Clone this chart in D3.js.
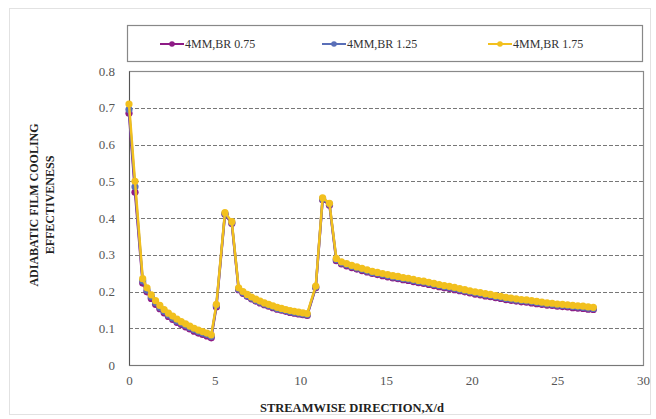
<!DOCTYPE html>
<html><head><meta charset="utf-8">
<script src="https://cdn.jsdelivr.net/npm/d3@7"></script>
<style>body{margin:0;background:#fff}svg{display:block}</style>
</head><body>
<svg id="chart" width="656" height="419"></svg>
<script>
const seriesNames = ["4MM,BR 0.75", "4MM,BR 1.25", "4MM,BR 1.75"];
const xPositions = [0,0.35,
  0.8,1.05,1.3,1.55,1.8,2.05,2.3,2.55,2.8,3.05,3.3,3.55,3.8,4.05,4.3,4.55,4.8,
  5.1,5.6,6.0,
  6.4,6.65,6.9,7.15,7.4,7.65,7.9,8.15,8.4,8.65,8.9,9.15,9.4,9.65,9.9,10.15,10.4,
  10.9,11.3,11.7,
  12.1,12.4,12.7,13.0,13.3,13.6,13.9,14.2,14.5,14.8,15.1,15.4,15.7,16.0,16.3,16.6,16.9,17.2,17.5,17.8,18.1,18.4,18.7,19.0,19.3,19.6,19.9,20.2,20.5,20.8,21.1,21.4,21.7,22.0,22.3,22.6,22.9,23.2,23.5,23.8,24.1,24.4,24.7,25.0,25.3,25.6,25.9,26.2,26.5,26.8,27.1];
const br075 = [0.685,0.47,
  0.223,0.199,0.181,0.165,0.153,0.142,0.132,0.124,0.116,0.110,0.104,0.098,0.092,0.087,0.083,0.079,0.074,
  0.158,0.41,0.385,
  0.205,0.195,0.187,0.180,0.174,0.169,0.164,0.160,0.156,0.152,0.149,0.146,0.143,0.141,0.139,0.137,0.135,
  0.21,0.45,0.435,
  0.284,0.275,0.270,0.265,0.261,0.257,0.253,0.249,0.246,0.243,0.240,0.237,0.235,0.232,0.230,0.227,0.224,0.222,0.219,0.216,0.213,0.210,0.208,0.205,0.202,0.199,0.196,0.193,0.191,0.188,0.186,0.183,0.181,0.178,0.176,0.174,0.172,0.171,0.169,0.167,0.165,0.163,0.162,0.160,0.159,0.158,0.156,0.155,0.154,0.152,0.151];
const br125 = [0.695,0.485,
  0.229,0.204,0.186,0.170,0.157,0.146,0.136,0.128,0.120,0.114,0.108,0.102,0.096,0.091,0.087,0.083,0.078,
  0.162,0.412,0.388,
  0.207,0.197,0.189,0.182,0.176,0.171,0.166,0.162,0.158,0.154,0.151,0.148,0.145,0.143,0.141,0.139,0.137,
  0.212,0.452,0.438,
  0.287,0.278,0.273,0.268,0.264,0.260,0.256,0.252,0.249,0.246,0.243,0.240,0.238,0.235,0.233,0.230,0.227,0.225,0.222,0.219,0.216,0.213,0.211,0.208,0.205,0.202,0.199,0.196,0.194,0.191,0.189,0.186,0.184,0.181,0.179,0.177,0.175,0.174,0.172,0.170,0.168,0.166,0.165,0.163,0.162,0.161,0.159,0.158,0.157,0.155,0.154];
const br175 = [0.71,0.50,
  0.235,0.210,0.191,0.175,0.162,0.151,0.141,0.133,0.125,0.118,0.112,0.106,0.100,0.095,0.091,0.087,0.082,
  0.165,0.415,0.39,
  0.210,0.200,0.192,0.185,0.179,0.174,0.169,0.165,0.161,0.157,0.154,0.151,0.148,0.146,0.144,0.142,0.140,
  0.215,0.455,0.44,
  0.290,0.281,0.276,0.271,0.267,0.263,0.259,0.255,0.252,0.249,0.246,0.243,0.241,0.238,0.236,0.233,0.230,0.228,0.225,0.222,0.219,0.216,0.214,0.211,0.208,0.205,0.202,0.199,0.197,0.194,0.192,0.189,0.187,0.184,0.182,0.180,0.178,0.177,0.175,0.173,0.171,0.169,0.168,0.166,0.165,0.164,0.162,0.161,0.160,0.158,0.157];
const xTicks = [0,5,10,15,20,25,30];
const yTicks = [0,0.1,0.2,0.3,0.4,0.5,0.6,0.7,0.8];
const colors = ["#8e1b86", "#5a6fb8", "#f2c01e"];

const svg = d3.select("#chart");
const L = 129, R = 643, T = 71, B = 365;
const x = d3.scaleLinear().domain([0,30]).range([L,R]);
const y = d3.scaleLinear().domain([0,0.8]).range([B,T]);

// outer frame
svg.append("rect").attr("x",9.5).attr("y",8.5).attr("width",641).attr("height",406)
  .attr("fill","none").attr("stroke","#e2e2e2");

// gridlines
svg.append("g").selectAll("line").data(yTicks.filter(d=>d>0 && d<0.8)).join("line")
  .attr("x1",L).attr("x2",R).attr("y1",d=>Math.round(y(d))+0.5).attr("y2",d=>Math.round(y(d))+0.5)
  .attr("stroke","#777").attr("stroke-width",1).attr("stroke-dasharray","4,2");

// plot border
svg.append("rect").attr("x",L+0.5).attr("y",T+0.5).attr("width",R-L).attr("height",B-T)
  .attr("fill","none").attr("stroke","#8a8a8a").attr("stroke-width",1.2);

// axes
const yAxis = d3.axisLeft(y).tickValues(yTicks).tickFormat(d=>d===0?"0":d3.format(".1f")(d)).tickSize(0).tickPadding(14);
const gy = svg.append("g").attr("transform",`translate(${L},0)`).call(yAxis);
gy.select(".domain").attr("stroke","#555");
gy.selectAll("text").attr("font-family","Liberation Serif").attr("font-size",13).attr("fill","#555");

const xAxis = d3.axisBottom(x).tickValues(xTicks).tickSize(0).tickPadding(11);
const gx = svg.append("g").attr("transform",`translate(0,${B})`).call(xAxis);
gx.select(".domain").attr("stroke","#777");
gx.selectAll("text").attr("font-family","Liberation Serif").attr("font-size",13).attr("fill","#555");

// series
const allSeries = [br075, br125, br175];
const line = d3.line().x((d,i)=>x(xPositions[i])).y(d=>y(d));
allSeries.forEach((vals,k)=>{
  const g = svg.append("g");
  g.append("path").datum(vals).attr("d",line).attr("fill","none")
    .attr("stroke",colors[k]).attr("stroke-width",2.5);
  g.selectAll("circle").data(vals).join("circle")
    .attr("cx",(d,i)=>x(xPositions[i])).attr("cy",d=>y(d)).attr("r",3.6)
    .attr("fill",colors[k]);
});

// legend
svg.append("rect").attr("x",127.5).attr("y",25.5).attr("width",515).attr("height",36)
  .attr("fill","#fff").attr("stroke","#888").attr("stroke-width",1.2);
const legX = [160, 322, 488];
seriesNames.forEach((n,k)=>{
  const g = svg.append("g").attr("transform",`translate(${legX[k]},44)`);
  g.append("line").attr("x1",0).attr("x2",24).attr("stroke",colors[k]).attr("stroke-width",2);
  g.append("circle").attr("cx",12).attr("r",2.8).attr("fill",colors[k]);
  g.append("text").attr("x",25).attr("y",4).text(n)
    .attr("font-family","Liberation Serif").attr("font-size",12).attr("fill","#333");
});

// axis titles
svg.append("text").attr("x",352).attr("y",412).attr("text-anchor","middle")
  .attr("font-family","Liberation Serif").attr("font-weight","bold").attr("font-size",12.5).attr("fill","#222")
  .text("STREAMWISE DIRECTION,X/d");
const yt = svg.append("g").attr("transform","translate(0,205) rotate(-90)");
yt.append("text").attr("x",0).attr("y",38).attr("text-anchor","middle")
  .attr("font-family","Liberation Serif").attr("font-weight","bold").attr("font-size",12).attr("fill","#222")
  .text("ADIABATIC FILM COOLING");
yt.append("text").attr("x",0).attr("y",54).attr("text-anchor","middle")
  .attr("font-family","Liberation Serif").attr("font-weight","bold").attr("font-size",12).attr("fill","#222")
  .text("EFFECTIVENESS");
</script>
</body></html>
